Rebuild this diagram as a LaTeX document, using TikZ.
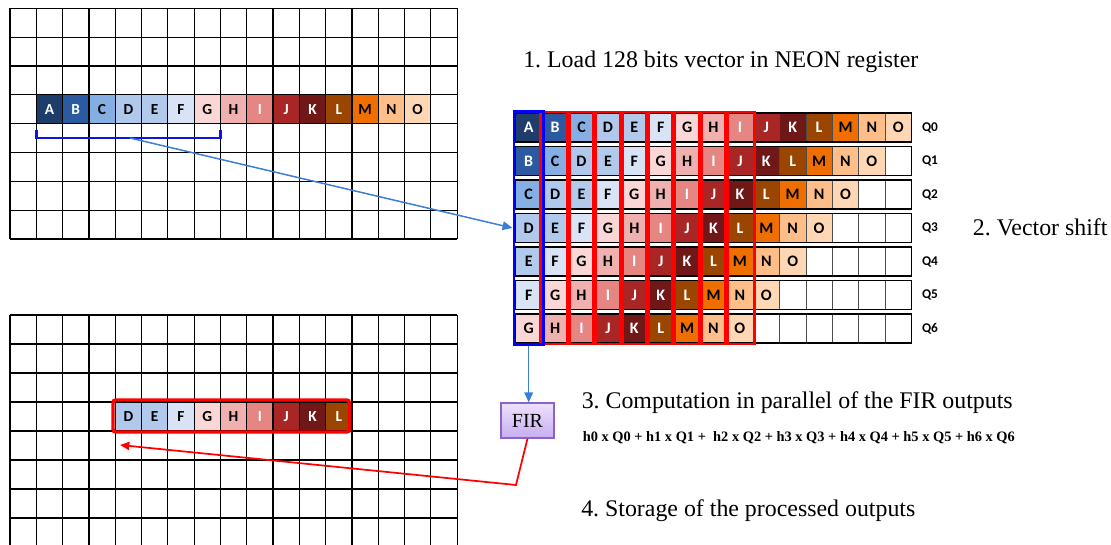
\documentclass[tikz,border=0pt]{standalone}
\usepackage{fontspec}
\setmainfont{Liberation Serif}
\newfontfamily\cellfont{Carlito}
\usetikzlibrary{arrows.meta,fit}
\frenchspacing
\definecolor{cA}{HTML}{1F3D6B}
\definecolor{cB}{HTML}{2C5AA0}
\definecolor{cC}{HTML}{85AEE2}
\definecolor{cD}{HTML}{AFC8EC}
\definecolor{cE}{HTML}{B1CAEC}
\definecolor{cF}{HTML}{D8E4F5}
\definecolor{cG}{HTML}{F8D7D6}
\definecolor{cH}{HTML}{EFB1B0}
\definecolor{cI}{HTML}{E68683}
\definecolor{cJ}{HTML}{A82626}
\definecolor{cK}{HTML}{701818}
\definecolor{cL}{HTML}{9A4600}
\definecolor{cM}{HTML}{EE6E00}
\definecolor{cN}{HTML}{FDBE8A}
\definecolor{cO}{HTML}{FFD7B5}
\definecolor{linkblue}{HTML}{3C7DD9}
\definecolor{brkblue}{HTML}{0A14E6}
\definecolor{firfillA}{HTML}{ECE2FB}
\definecolor{firfillB}{HTML}{C8ADF0}
\definecolor{firborder}{HTML}{8A63C8}
\def\letters{A/cA/white,B/cB/white,C/cC/black,D/cD/black,E/cE/black,F/cF/black,G/cG/black,H/cH/black,I/cI/white,J/cJ/white,K/cK/white,L/cL/white,M/cM/black,N/cN/black,O/cO/black}
\tikzset{
  gline/.style={black, line width=0.9pt},
  gcell/.style={inner sep=0pt, minimum width=19.725pt, minimum height=21.63pt, font=\cellfont\bfseries\fontsize{11.5}{12}\selectfont},
  rcell/.style={draw=black!70, line width=0.5pt, inner sep=0pt, minimum width=19.8pt, minimum height=21.75pt, font=\cellfont\bfseries\fontsize{12}{13}\selectfont},
  rframe/.style={draw=black, line width=0.9pt},
  qlabel/.style={font=\cellfont\bfseries\fontsize{10}{11}\selectfont, inner sep=0pt},
  bluecolbox/.style={draw=blue, line width=2pt, inner sep=1pt},
  redcolbox/.style={draw=red, line width=2pt, inner sep=0.6pt},
  bracketline/.style={draw=brkblue, line width=2.2pt},
  linkarrow/.style={draw=linkblue, line width=1.1pt, -{Triangle[length=7.5pt,width=6.5pt]}},
  redarrow/.style={draw=red, line width=1.3pt, -{Triangle[length=7pt,width=6pt]}},
  redframe/.style={draw=red, line width=2.6pt, rounded corners=2pt},
  firbox/.style={draw=firborder, line width=0.9pt, top color=firfillA, bottom color=firfillB, minimum width=39.75pt, minimum height=26.25pt, inner sep=0pt, font=\fontsize{15}{16}\selectfont},
  bigtext/.style={anchor=base west, inner sep=0pt, font=\fontsize{17.9}{20}\selectfont},
  formula/.style={anchor=base west, inner sep=0pt, font=\bfseries\fontsize{10.8}{12}\selectfont},
}
\begin{document}
\begin{tikzpicture}[x=0.75pt,y=-0.75pt]
\useasboundingbox (0,0) rectangle (1111,545);
% ---------- top grid ----------
\foreach \L/\c/\t [count=\i] in \letters {
  \node[gcell, fill=\c, text=\t] (top\L) at ({10+26.3*(\i+0.5)},109.2) {\L};
}
\foreach \k in {0,...,17} \draw[gline] ({10+26.3*\k},8.3) -- ({10+26.3*\k},239);
\foreach \j in {0,...,8} \draw[gline] (10,{8.3+28.84*\j}) -- (457.1,{8.3+28.84*\j});
\draw[bracketline] (36.3,130) -- (36.3,138) -- (220.6,138) -- (220.6,130);
\coordinate (brk) at (130,138);
% ---------- bottom grid ----------
\foreach \L/\c/\t [count=\i from 4] in {D/cD/black,E/cE/black,F/cF/black,G/cG/black,H/cH/black,I/cI/white,J/cJ/white,K/cK/white,L/cL/white} {
  \node[gcell, minimum height=21.75pt, fill=\c, text=\t] (bot\L) at ({10+26.3*(\i+0.5)},416.5) {\L};
}
\foreach \k in {0,...,17} \draw[gline] ({10+26.3*\k},315) -- ({10+26.3*\k},546);
\foreach \j in {0,...,7} \draw[gline] (10,{315+29*\j}) -- (457.1,{315+29*\j});
\draw[redframe] (113,400) rectangle (349.5,432);
% ---------- NEON registers ----------
\foreach \r in {0,...,6} {
  \pgfmathsetmacro\yc{127.5+33.5*\r}
  \foreach \L/\c/\t [count=\i from 0] in \letters {
    \pgfmathtruncatemacro\col{\i-\r}
    \ifnum\col<0 \else
      \node[rcell, fill=\c, text=\t] (q\r-\col) at ({515.5+26.4*(\col+0.5)},\yc) {\L};
    \fi
  }
  \ifnum\r>0
    \foreach \e in {1,...,\r} {
      \pgfmathtruncatemacro\col{15-\e}
      \node[rcell, fill=white] (q\r-\col) at ({515.5+26.4*(\col+0.5)},\yc) {};
    }
  \fi
  \draw[rframe] (515.5,{\yc-14.5}) rectangle (911.5,{\yc+14.5});
  \node[qlabel] (ql\r) at (930,\yc) {Q\r};
}
\foreach \k in {1,...,8} \node[redcolbox, fit=(q0-\k)(q6-\k)] (redcol\k) {};
\node[bluecolbox, fit=(q0-0)(q6-0)] (bluebox) {};
% ---------- FIR ----------
\node[firbox] (fir) at (527.5,420.5) {FIR};
% ---------- connectors ----------
\draw[linkarrow] (brk) -- (bluebox.west |- q3-0);
\draw[linkarrow] (bluebox.south) -- (bluebox.south |- fir.north);
\coordinate (bend) at (516,485);
\coordinate (redtip) at (120,445);
\draw[redarrow] (fir.south) -- (bend) -- (redtip);
% ---------- texts ----------
\node[bigtext] (s1) at (523,67.5) {1. Load 128 bits vector in NEON register};
\node[bigtext] (s2) at (972.7,236) {2. Vector shift};
\node[bigtext] (s3) at (581.5,408.5) {3. Computation in parallel of the FIR outputs};
\node[formula] (s3f) at (582.5,441.5) {h0 x Q0 + h1 x Q1 +\ \ h2 x Q2 + h3 x Q3 + h4 x Q4 + h5 x Q5 + h6 x Q6};
\node[bigtext] (s4) at (581,516) {4. Storage of the processed outputs};
\end{tikzpicture}
\end{document}
